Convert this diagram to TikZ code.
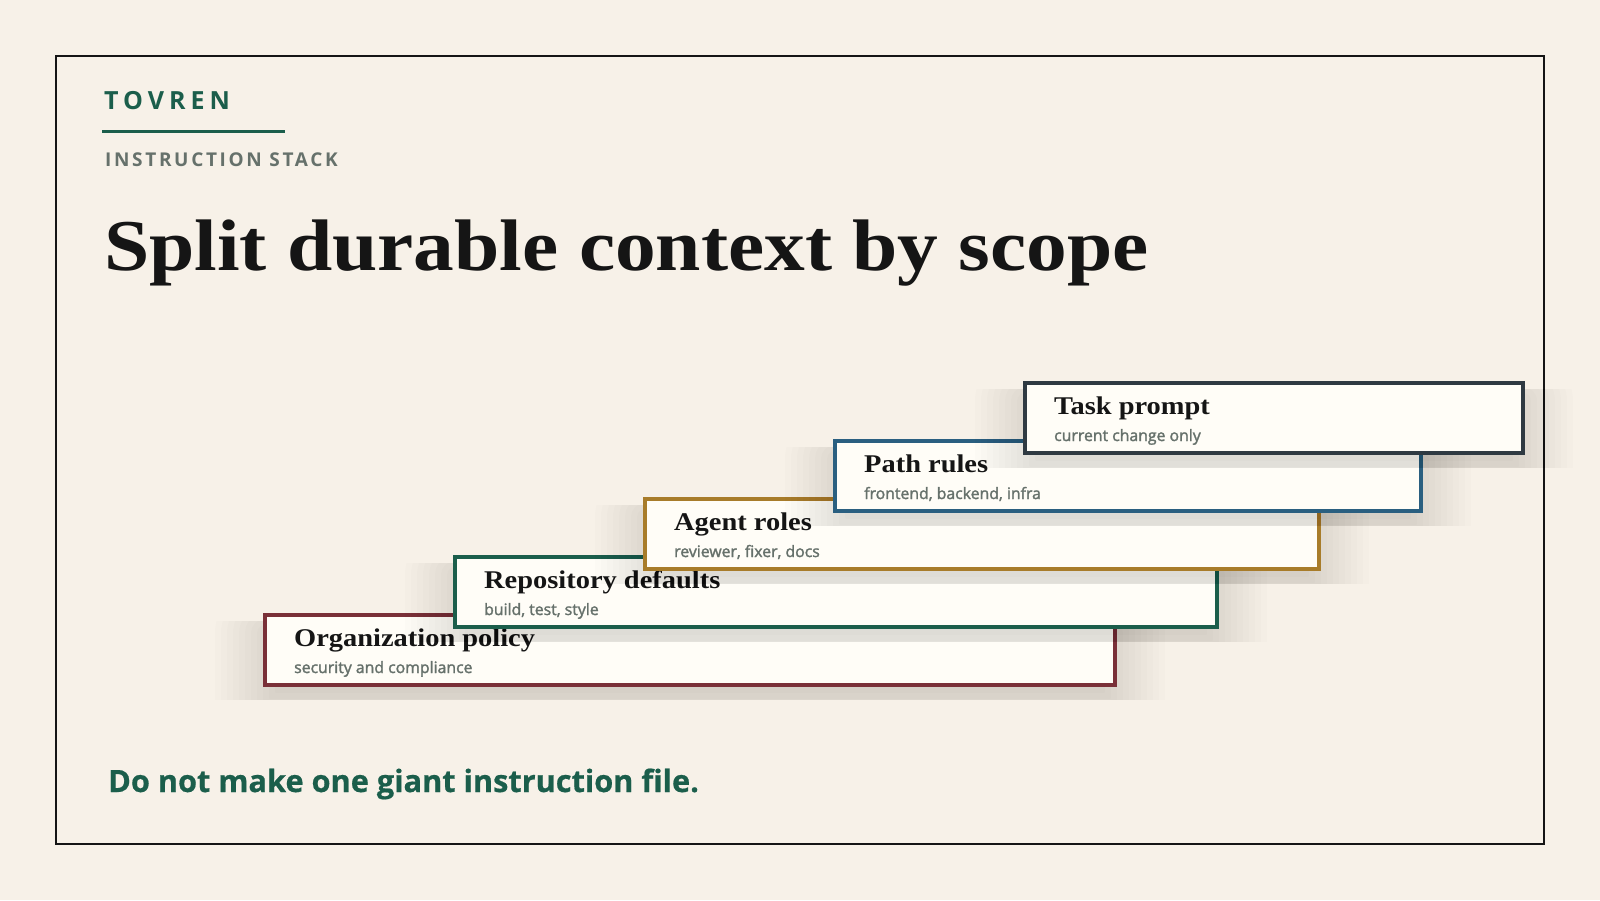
\documentclass[tikz,border=0pt]{standalone}
\usepackage{fontspec}
\usetikzlibrary{calc}
\setmainfont[FakeStretch=1.115]{Liberation Serif}
\newfontfamily\uisans[FakeBold=0.6]{Open Sans}
\newfontfamily\uisemi[FakeBold=1.8]{Open Sans}
\newfontfamily\spacedA[LetterSpace=20]{Open Sans}
\newfontfamily\spacedB[LetterSpace=14]{Open Sans}
\definecolor{bg}{HTML}{F7F1E8}
\definecolor{boxfill}{HTML}{FFFDF7}
\definecolor{brandgreen}{HTML}{1B5E4B}
\definecolor{mutegrey}{HTML}{66716B}
\definecolor{inkblack}{HTML}{151515}
\definecolor{cmaroon}{HTML}{7A3038}
\definecolor{cgreen}{HTML}{1B5E4B}
\definecolor{cgold}{HTML}{A87C2A}
\definecolor{cblue}{HTML}{2A5F80}
\definecolor{cslate}{HTML}{2F3A42}
\tikzset{
  stackbox/.style={rectangle, fill=boxfill, line width=4pt, minimum height=70pt, inner sep=0pt, outer sep=0pt},
  boxtitle/.style={inner sep=0pt, text=inkblack, font=\fontsize{25.5}{28}\selectfont\bfseries},
  boxsub/.style={inner sep=0pt, text=mutegrey, font=\uisemi\fontsize{15.8}{18}\selectfont},
  shadowlayer/.style={fill=black, fill opacity=0.0105},
  plain/.style={inner sep=0pt}
}
\newcommand\mkbox[7]{%
  \pgfmathsetmacro\bR{#2+#4}\pgfmathsetmacro\bB{#3+70}%
  \begin{scope}
    \clip (#2-90,#3+6) rectangle (\bR+90,\bB+14);
    \foreach \k in {0,...,11}{%
      \pgfmathsetmacro\ee{50-6*\k}%
      \pgfmathsetmacro\rr{max(\ee,1)}%
      \fill[shadowlayer, rounded corners=\rr pt] (#2-\ee,#3+18-\ee) rectangle (\bR+\ee,\bB+18+\ee);
    }
  \end{scope}
  \node[stackbox,draw=#5,minimum width=#4pt,anchor=north west] (#1) at (#2,#3) {};
  \node[boxtitle,anchor=base west] (#1t) at ($(#1.north west)+(29,31)$) {#6};
  \node[boxsub,anchor=base west] (#1s) at ($(#1.north west)+(29,58)$) {#7};
}
\begin{document}
\begin{tikzpicture}[x=1pt,y=-1pt]
\fill[bg] (0,0) rectangle (1600,900);
\useasboundingbox (0,0) rectangle (1600,900);
\draw[line width=2pt, color=inkblack] (56,56) rectangle (1544,844);
\node[plain,anchor=base west,text=brandgreen,font=\spacedA\bfseries\fontsize{25}{28}\selectfont] (brand) at (104,109) {TOVREN};
\coordinate (ruleA) at (102,131.7);
\coordinate (ruleB) at (285,131.7);
\draw[brandgreen, line width=3pt] (ruleA) -- (ruleB);
\node[plain,anchor=base west,text=mutegrey,font=\spacedB\bfseries\fontsize{19}{22}\selectfont] (kicker) at (105,166.5) {INSTRUCTION STACK};
\node[plain,anchor=base west,text=inkblack,font=\bfseries\fontsize{73}{80}\selectfont] (title) at (104,270.7) {Split durable context by scope};
\mkbox{b1}{265}{615}{850}{cmaroon}{Organization policy}{security and compliance}
\mkbox{b2}{455}{557}{762}{cgreen}{Repository defaults}{build, test, style}
\mkbox{b3}{645}{499}{674}{cgold}{Agent roles}{reviewer, fixer, docs}
\mkbox{b4}{835}{441}{586}{cblue}{Path rules}{frontend, backend, infra}
\mkbox{b5}{1025}{383}{498}{cslate}{Task prompt}{current change only}
\node[plain,anchor=base west,text=brandgreen,font=\uisans\bfseries\fontsize{30.7}{34}\selectfont] (footer) at (108,792) {Do not make one giant instruction file.};
\end{tikzpicture}
\end{document}
